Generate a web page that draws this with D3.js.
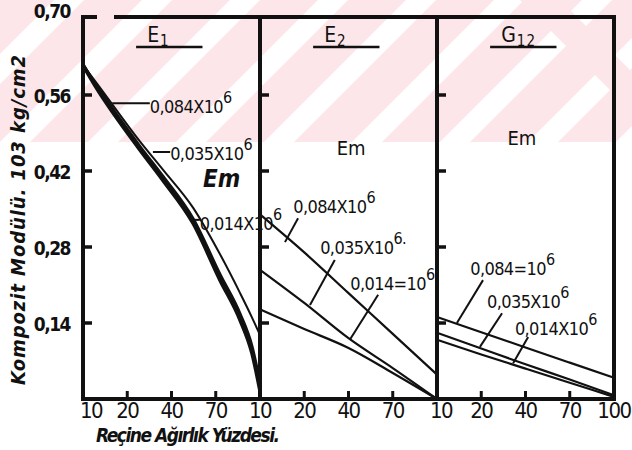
<!DOCTYPE html>
<html>
<head>
<meta charset="utf-8">
<script src="https://cdn.jsdelivr.net/npm/d3@7/dist/d3.min.js"></script>
<style>
  body { margin: 0; background: #fff; }
  svg { display: block; }
  text { font-family: "DejaVu Sans Condensed", "DejaVu Sans", sans-serif; fill: #111; }
</style>
</head>
<body>
<div id="chart"></div>
<script>
// x positions are read as tick index (0..4) within each panel
const tickLabels = ['10', '20', '40', '70', '100'];
const yTicks = [0.14, 0.28, 0.42, 0.56];
const yTickLabels = ['0,14', '0,28', '0,42', '0,56'];

// E1 panel - curved
const e1Idx = [0, 0.27, 1.29, 1.81, 2.49, 3.10, 3.55, 3.82, 4];
const e1_084 = [0.615, 0.578, 0.459, 0.403, 0.324, 0.219, 0.146, 0.085, 0.017];
const e1_035 = [0.615, 0.582, 0.465, 0.410, 0.332, 0.229, 0.157, 0.097, 0.030];
const e1_014 = [0.615, 0.586, 0.474, 0.422, 0.352, 0.266, 0.195, 0.150, 0.118];

// E2 and G12 panels - read at the ticks
const tickIdx = [0, 1, 2, 3, 4];
const e2_084 = [0.340, 0.270, 0.195, 0.120, 0.045];
const e2_035 = [0.238, 0.177, 0.112, 0.057, 0.000];
const e2_014 = [0.165, 0.129, 0.094, 0.048, 0.000];
const g12_084 = [0.151, 0.123, 0.095, 0.067, 0.039];
const g12_035 = [0.122, 0.093, 0.064, 0.036, 0.007];
const g12_014 = [0.109, 0.082, 0.056, 0.030, 0.004];

const W = 632, H = 450;
const plotLeft = 83, panelW = 177, plotBottom = 399, plotTop = 19;

const svg = d3.select('#chart').append('svg').attr('width', W).attr('height', H);

// faint pink watermark in the top band of the scan
const wm = svg.append('g');
wm.append('clipPath').attr('id', 'wmclip').append('rect')
  .attr('x', 0).attr('y', 0).attr('width', W).attr('height', 142);
const wmg = wm.append('g').attr('clip-path', 'url(#wmclip)');
wmg.append('rect').attr('width', W).attr('height', 142).attr('fill', '#fde6e9');
d3.range(-2, 9).forEach(i => {
  const sx = i * 88;
  wmg.append('path')
    .attr('d', `M${sx},142 L${sx + 30},142 L${sx + 30 + 142},0 L${sx + 142},0 Z`)
    .attr('fill', '#fff');
});
wmg.append('path').attr('d', 'M520,0 L560,0 L702,142 L662,142 Z').attr('fill', '#fde6e9');

const y = d3.scaleLinear().domain([0, 0.70]).range([plotBottom, plotTop]);

const panels = [
  { title: 'E', sub: '1', x: e1Idx, series: [e1_084, e1_035, e1_014], widths: [4, 3, 2], labels: 4 },
  { title: 'E', sub: '2', x: tickIdx, series: [e2_084, e2_035, e2_014], widths: [2.2, 2.2, 2.2], labels: 4 },
  { title: 'G', sub: '12', x: tickIdx, series: [g12_084, g12_035, g12_014], widths: [2.2, 2.2, 2.2], labels: 5 },
];

const annotations = [
  [
    { t: '0,084X10', at: [1.51, 0.527], lead: [[0.66, 0.545], [1.51, 0.545]] },
    { t: '0,035X10', at: [1.97, 0.440], lead: [[1.58, 0.455], [1.97, 0.455]] },
    { t: '0,014X10', at: [2.64, 0.311], lead: [[2.49, 0.330], [2.64, 0.330]] },
  ],
  [
    { t: '0,084X10', at: [0.75, 0.343], lead: [[0.86, 0.333], [0.565, 0.289]] },
    { t: '0,035X10', at: [1.36, 0.267], lead: [[1.69, 0.256], [1.13, 0.173]], dot: true },
    { t: '0,014=10', at: [2.04, 0.201], lead: [[2.67, 0.192], [2.03, 0.109]] },
  ],
  [
    { t: '0,084=10', at: [0.75, 0.228], lead: [[1.04, 0.219], [0.45, 0.140]] },
    { t: '0,035X10', at: [1.13, 0.168], lead: [[1.47, 0.158], [0.97, 0.096]] },
    { t: '0,014X10', at: [1.76, 0.118], lead: [[2.06, 0.114], [1.72, 0.066]] },
  ],
];
const emPos = [[2.71, 0.391], [2.06, 0.449], [1.92, 0.468]];

panels.forEach((p, pi) => {
  const x0 = plotLeft + pi * panelW;
  const x = d3.scaleLinear().domain([0, 4]).range([x0, x0 + panelW]);
  const g = svg.append('g');

  const line = d3.line()
    .x((d, i) => x(p.x[i]))
    .y(d => y(d))
    .curve(d3.curveMonotoneX);

  p.series.forEach((s, si) => {
    g.append('path').datum(s)
      .attr('d', line)
      .attr('fill', 'none')
      .attr('stroke', '#111')
      .attr('stroke-width', p.widths[si])
      .attr('stroke-linejoin', 'round');
  });

  // inward ticks on the left side of each panel
  g.selectAll('.yt').data(yTicks).enter().append('line')
    .attr('x1', x0).attr('x2', x0 + 9)
    .attr('y1', d => y(d)).attr('y2', d => y(d))
    .attr('stroke', '#111').attr('stroke-width', 3.5);

  // inner x ticks
  g.selectAll('.xt').data([1, 2, 3]).enter().append('line')
    .attr('x1', d => x(d)).attr('x2', d => x(d))
    .attr('y1', plotBottom).attr('y2', plotBottom - 8)
    .attr('stroke', '#111').attr('stroke-width', 3);

  g.selectAll('.xl').data(tickLabels.slice(0, p.labels)).enter().append('text')
    .attr('x', (d, i) => x(i) + (i === 0 && pi === 0 ? 8 : i === 0 && pi === 2 ? 4 : 0))
    .attr('y', 418)
    .attr('text-anchor', 'middle')
    .attr('font-size', 22)
    .attr('letter-spacing', -1.5)
    .text(d => d);

  // panel title with underline
  const tt = g.append('text').attr('x', x(1.45)).attr('y', 42)
    .attr('font-size', 21).attr('letter-spacing', 1);
  tt.append('tspan').text(p.title);
  tt.append('tspan').attr('dy', 4).attr('font-size', 15).text(p.sub);
  g.append('line')
    .attr('x1', x(1.2)).attr('x2', x(2.7))
    .attr('y1', 47).attr('y2', 47)
    .attr('stroke', '#111').attr('stroke-width', 2.5);

  g.append('text')
    .attr('x', x(emPos[pi][0])).attr('y', y(emPos[pi][1]))
    .attr('text-anchor', pi === 0 ? 'start' : 'middle')
    .attr('font-size', pi === 0 ? 24 : 20)
    .attr('font-style', pi === 0 ? 'italic' : 'normal')
    .attr('font-weight', pi === 0 ? 'bold' : 'normal')
    .text('Em');

  annotations[pi].forEach(a => {
    g.append('line')
      .attr('x1', x(a.lead[0][0])).attr('y1', y(a.lead[0][1]))
      .attr('x2', x(a.lead[1][0])).attr('y2', y(a.lead[1][1]))
      .attr('stroke', '#111').attr('stroke-width', 2);
    const t = g.append('text')
      .attr('x', x(a.at[0])).attr('y', y(a.at[1]))
      .attr('font-size', 18).attr('letter-spacing', -0.6);
    t.append('tspan').text(a.t);
    t.append('tspan').attr('dy', -10).attr('font-size', 16).text('6' + (a.dot ? '.' : ''));
  });
});

// frame
const plotRight = plotLeft + 3 * panelW;
const frame = svg.append('g').attr('stroke', '#111').attr('stroke-width', 4).attr('fill', 'none');
frame.append('line').attr('x1', plotLeft - 1).attr('x2', 97).attr('y1', 17).attr('y2', 17);
frame.append('line').attr('x1', 114).attr('x2', plotRight + 2).attr('y1', 17).attr('y2', 17);
frame.append('line').attr('x1', plotLeft - 1).attr('x2', plotRight + 2).attr('y1', plotBottom).attr('y2', plotBottom);
d3.range(4).forEach(i => {
  const xx = plotLeft + i * panelW;
  frame.append('line').attr('x1', xx).attr('x2', xx).attr('y1', 15).attr('y2', plotBottom + 2);
});

// y tick labels
svg.selectAll('.ytl').data(yTicks).enter().append('text')
  .attr('x', 70).attr('y', d => y(d) + 2)
  .attr('text-anchor', 'end').attr('dominant-baseline', 'middle')
  .attr('font-size', 19).attr('font-weight', 'bold').attr('letter-spacing', -1.5)
  .text((d, i) => yTickLabels[i]);
svg.append('text').attr('x', 70).attr('y', 12)
  .attr('text-anchor', 'end').attr('dominant-baseline', 'middle')
  .attr('font-size', 19).attr('font-weight', 'bold').attr('letter-spacing', -1.5)
  .text('0,70');

// axis titles
svg.append('text')
  .attr('transform', 'translate(25,220) rotate(-90)')
  .attr('text-anchor', 'middle')
  .attr('font-size', 20).attr('font-style', 'italic').attr('font-weight', 'bold')
  .attr('textLength', 330).attr('lengthAdjust', 'spacing')
  .text('Kompozit Modülü. 103 kg/cm2');

svg.append('text')
  .attr('x', 96).attr('y', 442)
  .attr('font-size', 19).attr('font-style', 'italic').attr('font-weight', 'bold')
  .attr('textLength', 184).attr('lengthAdjust', 'spacing')
  .text('Reçine Ağırlık Yüzdesi.');
</script>
</body>
</html>
